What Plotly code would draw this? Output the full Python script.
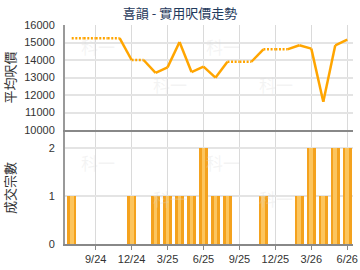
import plotly.graph_objects as go
from plotly.subplots import make_subplots

months = ["7/24", "8/24", "9/24", "10/24", "11/24", "12/24",
          "1/25", "2/25", "3/25", "4/25", "5/25", "6/25",
          "7/25", "8/25", "9/25", "10/25", "11/25", "12/25",
          "1/26", "2/26", "3/26", "4/26", "5/26", "6/26"]
price = [15250, None, None, None, None, 14000,
         None, 13270, 13580, 15030, 13310, 13620,
         12990, 13900, None, None, 14610, None,
         None, 14840, 14650, 11620, 14840, 15160]
counts = [1, 0, 0, 0, 0, 1,
          0, 1, 1, 1, 1, 2,
          1, 1, 0, 0, 1, 0,
          0, 1, 2, 1, 2, 2]
tick_labels = ["9/24", "12/24", "3/25", "6/25", "9/25", "12/25", "3/26", "6/26"]

title = "喜韻 - 實用呎價走勢"
y1_title = "平均呎價"
y2_title = "成交宗數"

xs = list(range(len(months)))
tick_idx = [months.index(t) for t in tick_labels]

# forward fill, split into solid / dotted segments
filled = []
last = None
for p in price:
    if p is not None:
        last = p
    filled.append(last)

sx, sy, dx, dy = [], [], [], []
for i in range(len(months) - 1):
    if price[i + 1] is not None:
        sx += [xs[i], xs[i + 1], None]
        sy += [filled[i], price[i + 1], None]
    else:
        dx += [xs[i], xs[i + 1], None]
        dy += [filled[i], filled[i], None]

bx = [x for x, c in zip(xs, counts) if c > 0]
by = [c for c in counts if c > 0]

fig = make_subplots(rows=2, cols=1, shared_xaxes=False, vertical_spacing=0.0)

orange = "#FFA500"
fig.add_trace(go.Scatter(x=dx, y=dy, mode="lines",
                         line=dict(color=orange, width=2.5, dash="2px,1.6px"),
                         hoverinfo="skip", showlegend=False), row=1, col=1)
fig.add_trace(go.Scatter(x=sx, y=sy, mode="lines",
                         line=dict(color=orange, width=2.5),
                         hoverinfo="skip", showlegend=False), row=1, col=1)

fig.add_trace(go.Bar(x=bx, y=by, width=0.75,
                     marker=dict(color="#F4A21E", line=dict(width=0)),
                     showlegend=False), row=2, col=1)
fig.add_trace(go.Bar(x=bx, y=by, width=0.32,
                     marker=dict(color="#FCC55E", line=dict(width=0)),
                     showlegend=False), row=2, col=1)

xr = [-0.56, 23.48]
axis_font = dict(family="Liberation Sans, Arial", size=11, color="#333333")
fig.update_layout(
    width=360, height=270,
    margin=dict(l=65, r=7, t=25, b=26),
    paper_bgcolor="white", plot_bgcolor="white",
    barmode="overlay", bargap=0,
    title=dict(text=title, x=0.5, xanchor="center", y=0.952, yanchor="middle",
               font=dict(family="Noto Sans CJK TC", size=13, color="#1F3A5C")),
    showlegend=False,
)
fig.update_xaxes(range=xr, tickvals=tick_idx, ticktext=tick_labels,
                 showgrid=True, gridcolor="#DADADA", gridwidth=1,
                 showline=True, linecolor="#888888", linewidth=1.5,
                 zeroline=False, tickfont=axis_font, automargin=False)
fig.update_xaxes(showticklabels=False, ticks="", row=1, col=1)
fig.update_xaxes(ticks="outside", ticklen=4, tickcolor="#888888", row=2, col=1)
fig.update_yaxes(showgrid=True, gridcolor="#E4E4E4", gridwidth=2,
                 showline=True, linecolor="#999999", linewidth=2,
                 zeroline=False, tickfont=axis_font, ticks="", automargin=False,
                 ticklabelstandoff=6)
fig.update_yaxes(range=[10000, 16000], dtick=1000, tickformat="d", domain=[0.5205, 1.0],
                 title=dict(text=y1_title, standoff=8,
                            font=dict(family="Noto Sans CJK TC", size=13, color="#333333")),
                 row=1, col=1)
fig.update_yaxes(range=[0, 2.325], tickvals=[0, 1, 2], domain=[0.0, 0.5114],
                 title=dict(text=y2_title, standoff=30,
                            font=dict(family="Noto Sans CJK TC", size=13, color="#333333")),
                 row=2, col=1)

# faint watermarks
wm = [(0.05, 0.93, "y domain"), (0.55, 0.93, "y domain"),
      (0.30, 0.30, "y domain"), (0.80, 0.30, "y domain"),
      (0.05, 0.86, "y2 domain"), (0.55, 0.86, "y2 domain"),
      (0.30, 0.28, "y2 domain"), (0.80, 0.28, "y2 domain")]
for ax_x, ax_y, yref in wm:
    fig.add_annotation(text="科一", x=ax_x, y=ax_y,
                       xref="x domain" if yref == "y domain" else "x2 domain",
                       yref=yref, showarrow=False,
                       font=dict(family="Noto Sans CJK TC", size=17, color="rgba(215,215,215,0.28)"))

fig.write_html("out.html")
